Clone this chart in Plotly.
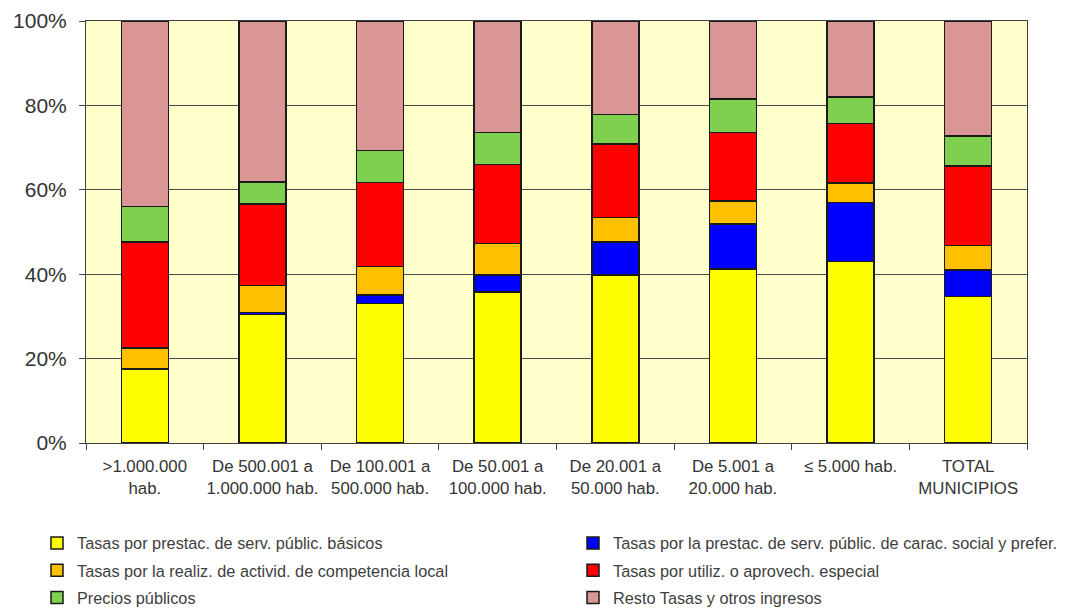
import plotly.graph_objects as go

categories = [">1.000.000<br>hab.", "De 500.001 a<br>1.000.000 hab.", "De 100.001 a<br>500.000 hab.",
              "De 50.001 a<br>100.000 hab.", "De 20.001 a<br>50.000 hab.", "De 5.001 a<br>20.000 hab.",
              "≤ 5.000 hab.", "TOTAL<br>MUNICIPIOS"]

basicos = [17.5, 30.4, 33.1, 35.8, 39.8, 41.2, 43.0, 34.7]
social = [0.2, 0.5, 2.0, 4.0, 7.8, 10.7, 14.0, 6.3]
competencia = [4.8, 6.4, 6.7, 7.5, 5.8, 5.4, 4.6, 5.8]
aprovech = [25.1, 19.3, 19.9, 18.7, 17.4, 16.3, 14.1, 18.9]
precios = [8.4, 5.2, 7.6, 7.6, 7.0, 7.9, 6.3, 7.0]
resto = [44.0, 38.2, 30.7, 26.4, 22.2, 18.5, 18.0, 27.3]

series_names = ["Tasas por prestac. de serv. públic. básicos",
                "Tasas por la prestac. de serv. públic. de carac. social y prefer.",
                "Tasas por la realiz. de activid. de competencia local",
                "Tasas por utiliz. o aprovech. especial",
                "Precios públicos",
                "Resto Tasas y otros ingresos"]
series_values = [basicos, social, competencia, aprovech, precios, resto]
series_colors = ["#FFFF00", "#0000FF", "#FFC000", "#FF0000", "#80D050", "#D99694"]
series_legend = ["legend", "legend2", "legend", "legend2", "legend", "legend2"]

fig = go.Figure()
for i, (name, vals, col, lg) in enumerate(zip(series_names, series_values, series_colors, series_legend)):
    fig.add_trace(go.Bar(
        x=categories, y=vals, name=name,
        marker=dict(color=col, line=dict(color="#1a1a1a", width=1.5)),
        width=0.4, legend=lg, legendgroup="g%d" % i,
    ))

legend_common = dict(
    orientation="v", xanchor="left", yanchor="top",
    font=dict(family="Liberation Sans, Arial, sans-serif", size=16.3, color="#404040"),
    tracegroupgap=3, bgcolor="rgba(0,0,0,0)", itemclick=False,
)

# figure-pixel geometry (page has an 8px body offset)
plot_l, plot_r, plot_t, plot_b = 78, 1019, 13, 435
pw, ph = plot_r - plot_l, plot_b - plot_t

fig.update_layout(
    barmode="stack",
    width=1073, height=612,
    margin=dict(l=plot_l, r=1073 - plot_r, t=plot_t, b=612 - plot_b, autoexpand=False),
    paper_bgcolor="white",
    plot_bgcolor="#FFFFCC",
    font=dict(family="Liberation Sans, Arial, sans-serif", color="#333333"),
    legend=dict(x=(29 - plot_l) / pw, y=(plot_b - 518) / ph, **legend_common),
    legend2=dict(x=(565 - plot_l) / pw, y=(plot_b - 518) / ph, **legend_common),
    xaxis=dict(
        type="category", tickson="boundaries", ticks="outside", ticklen=6,
        tickcolor="#404040", showline=True, linecolor="#404040", linewidth=1,
        mirror=True, showgrid=False,
        tickfont=dict(size=16.8, color="#333333"), ticklabelstandoff=8,
        tickangle=0,
    ),
    yaxis=dict(
        range=[0, 100], dtick=20, ticksuffix="%", ticks="outside", ticklen=6,
        tickcolor="#404040", showline=True, linecolor="#404040", linewidth=1,
        mirror=True, showgrid=True, gridcolor="#4a4a4a", gridwidth=1,
        tickfont=dict(size=21, color="#333333"), ticklabelstandoff=8,
        zeroline=False,
    ),
    showlegend=True,
)

fig.write_html("out.html")
